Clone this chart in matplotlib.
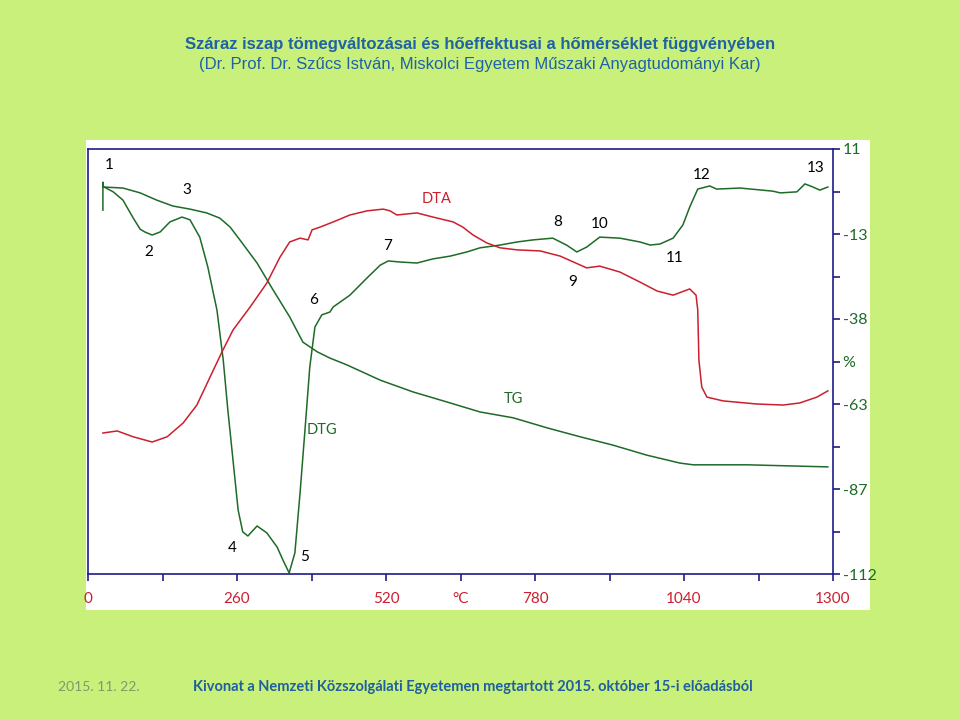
import numpy as np
import matplotlib.pyplot as plt
from matplotlib.patches import Rectangle

# temperature (°C) and signal values (right-axis units)
tg_t = [26, 61, 91, 120, 148, 178, 207, 230, 248, 265, 295, 323, 352, 375, 400, 422,
        452, 510, 567, 626, 684, 742, 801, 859, 916, 975, 1033, 1056, 1150, 1291]
tg_v = [0.0, -0.3, -1.7, -3.8, -5.5, -6.4, -7.5, -9.0, -11.6, -15.3, -22.0, -29.8,
        -37.6, -44.9, -47.7, -49.5, -51.5, -55.9, -59.3, -62.2, -65.1, -66.8, -69.7,
        -72.3, -74.7, -77.6, -79.9, -80.4, -80.4, -81.0]

dtg_t = [26, 26, 27, 44, 61, 79, 91, 99, 112, 126, 143, 164, 178, 195, 209, 225, 236,
         244, 253, 262, 270, 279, 295, 312, 330, 340, 351, 361, 370, 379, 387, 396, 408,
         422, 428, 457, 487, 510, 524, 544, 574, 602, 632, 661, 684, 719, 749, 777, 811,
         835, 853, 870, 893, 928, 963, 981, 998, 1021, 1038, 1050, 1064, 1085, 1097,
         1138, 1195, 1208, 1237, 1251, 1265, 1277, 1291]
dtg_v = [-6.7, 1.4, 0.1, -1.4, -3.8, -9.0, -12.2, -13.0, -13.9, -13.0, -10.1, -8.7,
         -9.5, -14.5, -23.1, -35.6, -50.1, -64.5, -79.0, -93.5, -99.8, -101.0, -98.1,
         -100.1, -104.2, -107.9, -111.7, -105.9, -88.6, -69.5, -52.1, -40.5, -37.0,
         -36.2, -34.7, -31.3, -26.3, -22.6, -21.4, -21.7, -22.0, -20.8, -20.0, -18.8,
         -17.6, -16.8, -15.9, -15.3, -14.8, -16.8, -18.8, -17.4, -14.5, -14.8, -15.9,
         -16.8, -16.5, -14.8, -11.0, -5.8, -0.6, 0.3, -0.6, -0.3, -1.2, -1.7, -1.4, 0.9,
         0.0, -0.9, 0.0]

dta_t = [26, 51, 79, 112, 138, 166, 190, 213, 233, 253, 283, 312, 335, 352, 370, 384,
         391, 405, 428, 457, 487, 515, 527, 539, 574, 602, 637, 654, 672, 696, 719, 749,
         789, 824, 870, 893, 928, 963, 993, 1021, 1050, 1061, 1064, 1066, 1071, 1080,
         1108, 1167, 1213, 1242, 1272, 1291]
dta_v = [-71.2, -70.6, -72.3, -73.8, -72.3, -68.3, -63.1, -55.0, -48.0, -41.4, -34.7,
         -27.8, -20.3, -15.9, -14.8, -15.3, -12.4, -11.6, -10.1, -8.1, -6.9, -6.4, -6.9,
         -8.1, -7.5, -8.7, -10.1, -11.6, -13.9, -16.2, -17.6, -18.2, -18.5, -20.0, -23.4,
         -22.9, -24.6, -27.5, -30.1, -31.3, -29.5, -31.3, -35.6, -50.1, -57.9, -60.8,
         -61.9, -62.8, -63.1, -62.5, -60.8, -59.0]

point_labels = ["1", "2", "3", "4", "5", "6", "7", "8", "9", "10", "11", "12", "13"]
point_t = [37, 106, 173, 251, 377, 394, 523, 820, 846, 893, 1023, 1071, 1270]
point_v = [6.4, -18.8, -0.9, -104.5, -107.1, -32.7, -17.1, -10.1, -27.5, -10.7, -20.5, 3.5, 5.5]

x_ticks = [0, 130, 260, 390, 520, 650, 780, 910, 1040, 1170, 1300]
x_labels = ["0", "", "260", "", "520", "°C", "780", "", "1040", "", "1300"]
y_ticks = list(np.linspace(11, -112, 11))
y_labels = ["11", "", "-13", "", "-38", "%", "-63", "", "-87", "", "-112"]

bg = "#c8f07a"
navy = "#1c1c8a"
green = "#1e6a28"
red = "#cc1f2e"

fig = plt.figure(figsize=(9.6, 7.2), dpi=100, facecolor=bg)
fig.patches.append(Rectangle((86 / 960, 1 - 610 / 720), 784 / 960, 470 / 720,
                             transform=fig.transFigure, facecolor="white",
                             edgecolor="none", zorder=-1))

ax = fig.add_axes([88 / 960, 1 - 574 / 720, 745 / 960, 425 / 720])
ax.set_facecolor("white")
ax.plot(tg_t, tg_v, color=green, lw=1.1)
ax.plot(dtg_t, dtg_v, color=green, lw=1.1)
ax.plot(dta_t, dta_v, color=red, lw=1.1)

for lab, t, v in zip(point_labels, point_t, point_v):
    ax.text(t, v, lab, fontsize=11, family="Lato", color="black", ha="center", va="center")
ax.text(609, -3.5, "DTA", fontsize=10.5, family="Lato", color=red, ha="center", va="center")
ax.text(742, -61.4, "TG", fontsize=10.5, family="Lato", color=green, ha="center", va="center")
ax.text(408, -70.3, "DTG", fontsize=10.5, family="Lato", color=green, ha="center", va="center")

ax.set_xlim(0, 1300)
ax.set_ylim(-112, 11)
for s in ax.spines.values():
    s.set_color(navy)
    s.set_linewidth(1.2)

ax.set_xticks(x_ticks)
ax.set_xticklabels(x_labels, family="Lato", fontsize=11, color=red)
ax.tick_params(axis="x", colors=navy, labelcolor=red, length=5, width=1.2, pad=8)

ax.yaxis.tick_right()
ax.set_yticks(y_ticks)
ax.set_yticklabels(y_labels, family="Lato", fontsize=11.5, color=green)
ax.tick_params(axis="y", colors=navy, labelcolor=green, length=5, width=1.2, pad=2)

fig.text(0.5, 1 - 45 / 720, "Száraz iszap tömegváltozásai és hőeffektusai a hőmérséklet függvényében",
         ha="center", va="center", fontsize=12, fontweight="bold", family="Liberation Sans",
         color="#1f62a6")
fig.text(0.5, 1 - 65 / 720, "(Dr. Prof. Dr. Szűcs István, Miskolci Egyetem Műszaki Anyagtudományi Kar)",
         ha="center", va="center", fontsize=12, family="Liberation Sans", color="#1f62a6")

fig.text(58 / 960, 1 - 687 / 720, "2015. 11. 22.", ha="left", va="center", fontsize=10,
         family="Lato", color="#7d9a6a")
fig.text(193 / 960, 1 - 687 / 720,
         "Kivonat a Nemzeti Közszolgálati Egyetemen megtartott 2015. október 15-i előadásból",
         ha="left", va="center", fontsize=10.5, fontweight="bold", family="Lato", color="#1f5f9e")

fig.savefig("out.png", dpi=100, facecolor=bg)
